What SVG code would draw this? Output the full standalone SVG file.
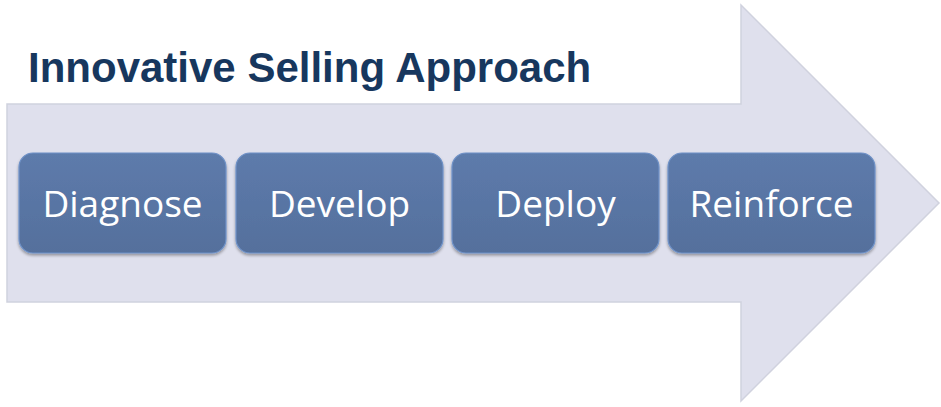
<svg xmlns="http://www.w3.org/2000/svg" width="941" height="407" viewBox="0 0 941 407">
<defs>
<linearGradient id="boxg" x1="0" y1="0" x2="0" y2="1">
<stop offset="0" stop-color="#5D7BAB"/>
<stop offset="0.5" stop-color="#5975A4"/>
<stop offset="1" stop-color="#55709C"/>
</linearGradient>
<filter id="sh" x="-10%" y="-10%" width="120%" height="130%">
<feGaussianBlur in="SourceAlpha" stdDeviation="1.5"/>
<feOffset dx="0" dy="2" result="b"/>
<feComponentTransfer><feFuncA type="linear" slope="0.35"/></feComponentTransfer>
<feMerge><feMergeNode/><feMergeNode in="SourceGraphic"/></feMerge>
</filter>
</defs>
<style>
.box{fill:url(#boxg);stroke:#6F92C8;stroke-width:1.2;filter:url(#sh)}
.lbl{font-family:"Open Sans","Noto Sans",sans-serif;font-size:37px;fill:#FFFFFF;text-anchor:middle}
.title{font-family:"Liberation Sans",Arial,sans-serif;font-weight:bold;font-size:42px;fill:#17375E}
</style>
<rect width="941" height="407" fill="#FFFFFF"/>
<g id="arrow">
<polygon points="7,104 741,104 741,5 939,203 741,401 741,302 7,302" fill="#DFE0ED" stroke="#D0D2DE" stroke-width="1.5"/>
</g>
<g id="title">
<text class="title" x="28" y="82">Innovative Selling Approach</text>
</g>
<g id="connectors"></g>
<g id="diagnose">
<rect class="box" x="19" y="153" width="207" height="100" rx="14"/>
<text class="lbl" x="122.5" y="217">Diagnose</text>
</g>
<g id="develop">
<rect class="box" x="236" y="153" width="207" height="100" rx="14"/>
<text class="lbl" x="339.5" y="217">Develop</text>
</g>
<g id="deploy">
<rect class="box" x="452" y="153" width="207" height="100" rx="14"/>
<text class="lbl" x="555.5" y="217">Deploy</text>
</g>
<g id="reinforce">
<rect class="box" x="668" y="153" width="207" height="100" rx="14"/>
<text class="lbl" x="771.5" y="217">Reinforce</text>
</g>
</svg>
